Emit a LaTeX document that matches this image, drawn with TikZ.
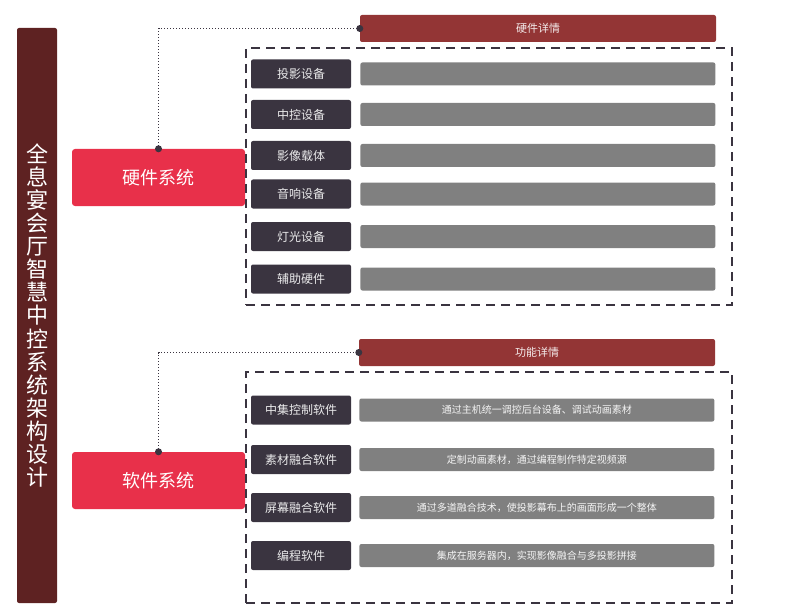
\documentclass[tikz,border=0pt]{standalone}
\usepackage{fontspec}
\usepackage{tikz}
\usetikzlibrary{positioning}
\newfontfamily\cjk{Noto Sans CJK SC}
\definecolor{titlered}{HTML}{5E2222}
\definecolor{sysred}{HTML}{E8304A}
\definecolor{headred}{HTML}{933535}
\definecolor{itemdark}{HTML}{3A3440}
\definecolor{bargray}{HTML}{808080}

\begin{document}
\begin{tikzpicture}[x=1pt, y=-1pt, every node/.style={font=\cjk}]
\tikzset{
  titlenode/.style={
    fill=titlered,
    rounded corners=2pt,
    minimum width=40pt,
    minimum height=575pt,
    text=white,
    align=center,
    font=\cjk\fontsize{22}{23.1}\selectfont,
  },
  sysnode/.style={
    fill=sysred,
    rounded corners=3pt,
    minimum width=173pt,
    minimum height=57pt,
    text=white,
    font=\cjk\fontsize{18}{20}\selectfont,
  },
  headnode/.style={
    fill=headred,
    rounded corners=2pt,
    minimum width=356pt,
    minimum height=27pt,
    text=white!90!headred,
    font=\cjk\fontsize{11}{12}\selectfont,
  },
  itemnode/.style={
    fill=itemdark,
    rounded corners=2pt,
    minimum width=100pt,
    minimum height=29pt,
    inner sep=0pt,
    text=white!90!itemdark,
    font=\cjk\fontsize{12}{13}\selectfont,
  },
  barnode/.style={
    fill=bargray,
    rounded corners=2pt,
    minimum width=355pt,
    minimum height=23pt,
    inner sep=0pt,
    text=white!92!bargray,
    font=\cjk\fontsize{10}{11}\selectfont,
  },
  dashbox/.style={
    draw=itemdark,
    line width=1.8pt,
    dash pattern=on 9pt off 6pt,
    minimum width=486pt,
  },
  link/.style={
    draw=itemdark,
    line width=1pt,
    dotted,
  },
}
\useasboundingbox (0,0) rectangle (790,615);

\node[titlenode] (title) at (37,315.5) {全\\息\\宴\\会\\厅\\智\\慧\\中\\控\\系\\统\\架\\构\\设\\计};

\node[sysnode] (hw) at (158.5,177.5) {硬件系统};
\node[headnode] (hwhead) at (538,28.5) {硬件详情};
\node[dashbox, minimum height=257pt] (hwbox) at (489,176.5) {};

\node[itemnode] (hw1) at (301,74) {投影设备};
\node[itemnode] (hw2) at (301,114.5) {中控设备};
\node[itemnode] (hw3) at (301,155.5) {影像载体};
\node[itemnode] (hw4) at (301,194) {音响设备};
\node[itemnode] (hw5) at (301,236.5) {灯光设备};
\node[itemnode] (hw6) at (301,279) {辅助硬件};
\node[barnode, right=9pt of hw1] (hwd1) {};
\node[barnode, right=9pt of hw2] (hwd2) {};
\node[barnode, right=9pt of hw3] (hwd3) {};
\node[barnode, right=9pt of hw4] (hwd4) {};
\node[barnode, right=9pt of hw5] (hwd5) {};
\node[barnode, right=9pt of hw6] (hwd6) {};

\draw[link] (hw.north) |- (hwhead.west);
\fill[itemdark] (hw.north) circle (3.5);
\fill[itemdark] (hwhead.west) circle (3.5);

\node[sysnode] (sw) at (158.5,480.5) {软件系统};
\node[headnode] (swhead) at (537,352.5) {功能详情};
\node[dashbox, minimum height=231pt] (swbox) at (489,487.5) {};

\node[itemnode] (sw1) at (301,410) {中集控制软件};
\node[itemnode] (sw2) at (301,459.5) {素材融合软件};
\node[itemnode] (sw3) at (301,507.5) {屏幕融合软件};
\node[itemnode] (sw4) at (301,555.5) {编程软件};
\node[barnode, right=8pt of sw1] (swd1) {通过主机统一调控后台设备、调试动画素材};
\node[barnode, right=8pt of sw2] (swd2) {定制动画素材，通过编程制作特定视频源};
\node[barnode, right=8pt of sw3] (swd3) {通过多道融合技术，使投影幕布上的画面形成一个整体};
\node[barnode, right=8pt of sw4] (swd4) {集成在服务器内，实现影像融合与多投影拼接};

\draw[link] (sw.north) |- (swhead.west);
\fill[itemdark] (sw.north) circle (3.5);
\fill[itemdark] (swhead.west) circle (3.5);

\end{tikzpicture}
\end{document}
